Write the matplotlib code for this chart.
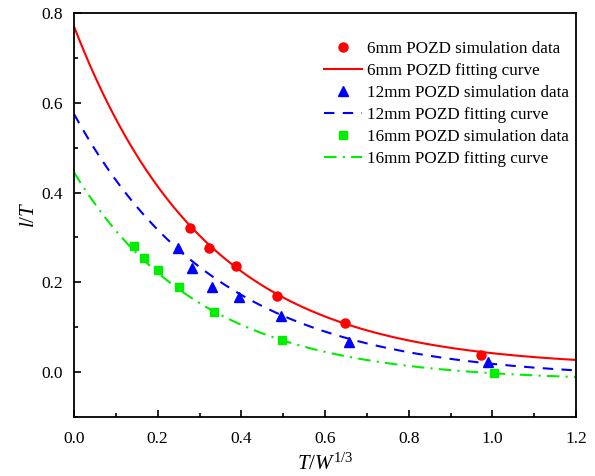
import numpy as np
import matplotlib
matplotlib.use("Agg")
import matplotlib.pyplot as plt

plt.rcParams['font.family'] = ['Liberation Serif', 'DejaVu Serif']
plt.rcParams['mathtext.fontset'] = 'custom'
plt.rcParams['mathtext.it'] = 'Liberation Serif:italic'
plt.rcParams['mathtext.rm'] = 'Liberation Serif'

# Datos de simulación
x_6mm = [0.277, 0.323, 0.387, 0.485, 0.648, 0.973]
y_6mm = [0.320, 0.276, 0.236, 0.169, 0.109, 0.038]

x_12mm = [0.249, 0.282, 0.330, 0.394, 0.495, 0.657, 0.990]
y_12mm = [0.276, 0.232, 0.190, 0.167, 0.125, 0.067, 0.022]

x_16mm = [0.143, 0.167, 0.200, 0.251, 0.335, 0.497, 1.004]
y_16mm = [0.280, 0.254, 0.227, 0.190, 0.134, 0.071, -0.002]

# Parámetros de ajuste exponencial y = A*exp(-x/t) + y0
A_fit = [0.760, 0.590, 0.465]
t_fit = [0.316, 0.348, 0.305]
y0_fit = [0.010, -0.015, -0.020]

series = ['6mm', '12mm', '16mm']
colores = ['#ff0000', '#0000ff', '#00ee00']
marcadores = ['o', '^', 's']
tam_marc = [6.5, 7.5, 5.5]
estilos = ['-', (0, (5, 4)), (0, (6, 3, 1, 3))]

fig = plt.figure(figsize=(5.95, 4.76), dpi=100)
ax = fig.add_axes([0.1244, 0.124, 0.8437, 0.8487])

xs = [x_6mm, x_12mm, x_16mm]
ys = [y_6mm, y_12mm, y_16mm]
xc = np.linspace(0, 1.2, 300)
for i in range(3):
    ax.plot(xs[i], ys[i], linestyle='none', marker=marcadores[i], color=colores[i],
            markersize=tam_marc[i], label=f'{series[i]} POZD simulation data')
    yc = A_fit[i] * np.exp(-xc / t_fit[i]) + y0_fit[i]
    ax.plot(xc, yc, linestyle=estilos[i], color=colores[i], linewidth=1.5,
            label=f'{series[i]} POZD fitting curve')

ax.set_xlim(0, 1.2)
ax.set_ylim(-0.1, 0.8)
ax.set_xticks(np.arange(0, 1.21, 0.2))
ax.set_xticks(np.arange(0.1, 1.2, 0.2), minor=True)
ax.set_yticks(np.arange(0, 0.81, 0.2))
ax.set_yticks(np.arange(-0.1, 0.8, 0.2), minor=True)
ax.set_xticklabels([f'{v:.1f}' for v in np.arange(0, 1.21, 0.2)])
ax.set_yticklabels([f'{v:.1f}' for v in np.arange(0, 0.81, 0.2)])
ax.tick_params(which='both', direction='in', labelsize=12.5, width=1.2)
ax.tick_params(which='major', length=5)
ax.tick_params(axis='x', which='major', pad=10)
ax.tick_params(axis='y', which='major', pad=8)
ax.tick_params(which='minor', length=3)
for s in ax.spines.values():
    s.set_linewidth(1.3)

ax.set_xlabel(r'$T/W^{\mathit{1/3}}$', fontsize=15, labelpad=5)
ax.set_ylabel(r'$l/T$', fontsize=15, labelpad=2)

ax.legend(loc='upper right', bbox_to_anchor=(1.0, 0.947), frameon=False,
          fontsize=12.3, handlelength=2.2, labelspacing=0.345, handletextpad=0.3,
          borderaxespad=0.0)

fig.savefig('out.png', dpi=100)
